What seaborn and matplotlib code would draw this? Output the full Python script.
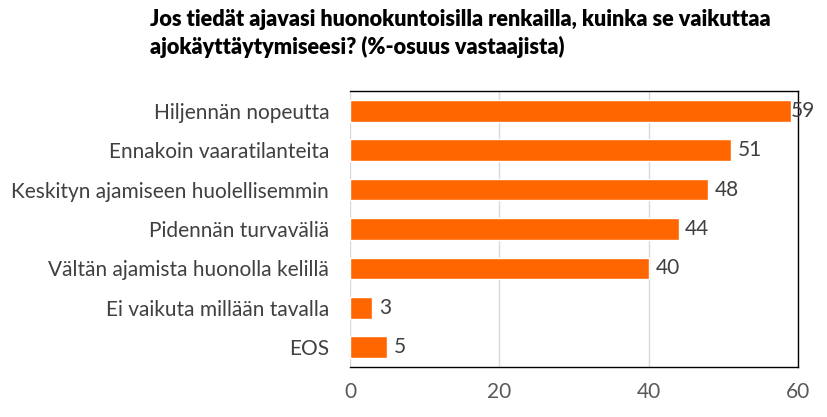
import matplotlib
matplotlib.use("Agg")
import matplotlib.pyplot as plt
import seaborn as sns
import pandas as pd

# data
categories = ["Hiljennän nopeutta", "Ennakoin vaaratilanteita",
              "Keskityn ajamiseen huolellisemmin", "Pidennän turvaväliä",
              "Vältän ajamista huonolla kelillä", "Ei vaikuta millään tavalla",
              "EOS"]
values = [59, 51, 48, 44, 40, 3, 5]
x_ticks = [0, 20, 40, 60]

title = ("Jos tiedät ajavasi huonokuntoisilla renkailla, kuinka se vaikuttaa\n"
         "ajokäyttäytymiseesi? (%-osuus vastaajista)")

df = pd.DataFrame({"kategoria": categories, "osuus": values})

sns.set_style("white")
plt.rcParams["font.family"] = ["Lato", "DejaVu Sans"]

fig = plt.figure(figsize=(8.28, 4.17), dpi=100)
ax = fig.add_axes([350 / 828, 1 - 367 / 417, 448 / 828, 276 / 417])

sns.barplot(data=df, x="osuus", y="kategoria", color="#FF6600",
            saturation=1, width=0.55, ax=ax)

ax.set_xlim(0, 60)
ax.set_ylim(6.5, -0.5)
ax.set_xticks(x_ticks)
ax.set_xlabel("")
ax.set_ylabel("")
ax.grid(axis="x", color="#D9D9D9", linewidth=1)
ax.set_axisbelow(True)

for side in ["top", "right", "bottom"]:
    ax.spines[side].set_color("black")
    ax.spines[side].set_linewidth(1)
ax.spines["left"].set_visible(False)

ax.tick_params(axis="y", length=0, pad=15, labelsize=15, labelcolor="#404040")
ax.tick_params(axis="x", length=0, pad=11, labelsize=15, labelcolor="#595959")

for i, v in enumerate(values):
    ax.text(v + 0.9 if v < 59 else v, i, str(v), va="center", ha="left",
            fontsize=15, color="#404040")

fig.text(150 / 828, 1 - 9 / 417, title, ha="left", va="top",
         fontsize=15.6, fontweight="heavy", color="black", linespacing=1.3)

fig.savefig("out.png", dpi=100)
